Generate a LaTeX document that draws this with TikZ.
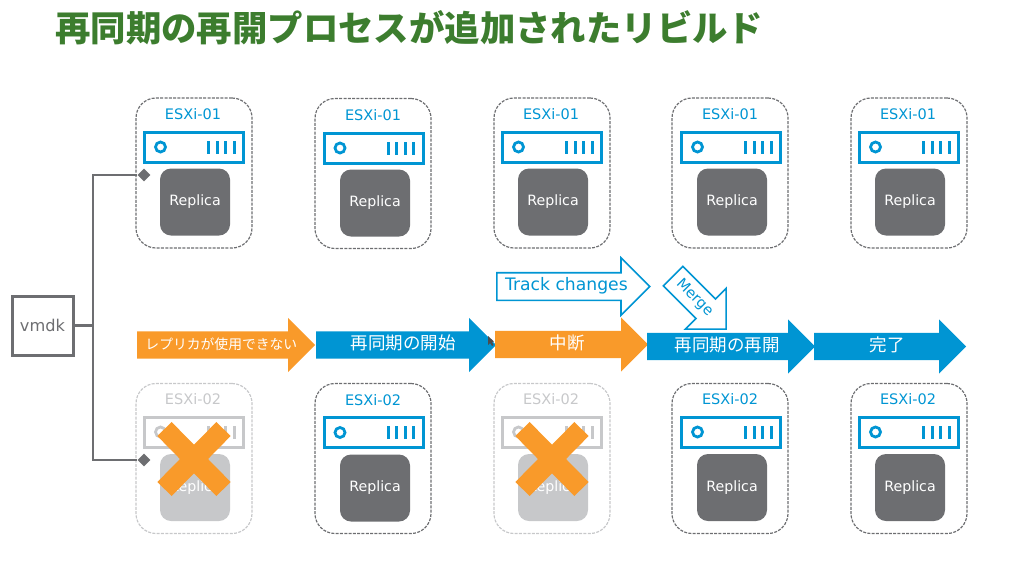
\documentclass[tikz,border=0pt]{standalone}
\usepackage{fontspec}
\usepackage{tikz}
\usetikzlibrary{shapes.arrows, shapes.geometric, shapes.misc}
\setmainfont{DejaVu Sans}
\newfontfamily\cjkfont{Noto Sans CJK JP}
\definecolor{esxblue}{HTML}{0095D3}
\definecolor{esxorange}{HTML}{F99A2A}
\definecolor{esxgrey}{HTML}{6D6E71}
\definecolor{esxfade}{HTML}{C7C8CA}
\definecolor{esxgreen}{HTML}{3C7D2E}
\tikzset{
  hostbox/.style={shape=rectangle, draw=#1, line width=1.2pt, dash pattern=on 3pt off 1.3pt,
    rounded corners=20pt, minimum width=116pt, minimum height=150pt, inner sep=0pt},
  hostbox/.default=esxgrey,
  hostname/.style={text=#1, font=\fontsize{14.5}{16}\selectfont},
  hostname/.default=esxblue,
  hostserver/.style={shape=rectangle, draw=#1, line width=3pt, minimum width=99pt, minimum height=30pt,
    inner sep=0pt, path picture={
      \draw[#1, line width=2.8pt] ([xshift=16pt]path picture bounding box.west) circle (5pt);
      \draw[#1, line width=3pt] ([xshift=64pt, yshift=-6.5pt]path picture bounding box.west) -- +(0, -13);
      \draw[#1, line width=3pt] ([xshift=72.5pt, yshift=-6.5pt]path picture bounding box.west) -- +(0, -13);
      \draw[#1, line width=3pt] ([xshift=81pt, yshift=-6.5pt]path picture bounding box.west) -- +(0, -13);
      \draw[#1, line width=3pt] ([xshift=89.5pt, yshift=-6.5pt]path picture bounding box.west) -- +(0, -13);
    }},
  hostserver/.default=esxblue,
  replica/.style={shape=rectangle, fill=#1, text=white, rounded corners=11pt, minimum width=70pt,
    minimum height=67pt, inner sep=0pt, font=\fontsize{14.2}{16}\selectfont},
  replica/.default=esxgrey,
  stagearrow/.style={shape=single arrow, fill=#1, text=white, anchor=tail, inner ysep=0pt, inner xsep=0pt,
    text height=18pt, text depth=9pt, single arrow head extend=13.5pt, single arrow head indent=0pt,
    font=\cjkfont\fontsize{17.5}{20}\selectfont},
  outlinearrow/.style={shape=single arrow, draw=esxblue, fill=white, text=esxblue, line width=1.6pt,
    anchor=tail, inner ysep=0pt, inner xsep=0pt, single arrow head extend=15pt, single arrow head indent=0pt,
    text height=17pt, text depth=9pt},
  hostlink/.style={draw=esxgrey, line width=2.4pt},
  linkend/.style={shape=diamond, fill=esxgrey, minimum size=13pt, inner sep=0pt},
  crossmark/.style={shape=rectangle, cross out, draw=esxorange, line width=20pt, minimum width=59pt,
    minimum height=60pt, inner sep=0pt, outer sep=0pt}
}
\begin{document}
\begin{tikzpicture}[x=1pt, y=-1pt]
  \useasboundingbox (0, 0) rectangle (1024, 571);
  \node (title) at (55, 28) [anchor=west, inner sep=0pt, text=esxgreen, font=\cjkfont\bfseries\fontsize{35.4}{40}\selectfont] {再同期の再開プロセスが追加されたリビルド};
  % first row of hosts
  \node (box1x1) at (194, 173) [hostbox] {};
  \node (box1x2) at (373, 173.5) [hostbox] {};
  \node (box1x3) at (552, 173) [hostbox] {};
  \node (box1x4) at (730, 173) [hostbox] {};
  \node (box1x5) at (909, 173) [hostbox] {};
  \node (name1x1) at (193, 114) [hostname] {ESXi-01};
  \node (name1x2) at (373, 115) [hostname] {ESXi-01};
  \node (name1x3) at (551, 114) [hostname] {ESXi-01};
  \node (name1x4) at (730, 114) [hostname] {ESXi-01};
  \node (name1x5) at (908, 114) [hostname] {ESXi-01};
  \node (server1x1) at (194, 147) [hostserver] {};
  \node (server1x2) at (373.5, 148) [hostserver] {};
  \node (server1x3) at (552, 147) [hostserver] {};
  \node (server1x4) at (731, 147) [hostserver] {};
  \node (server1x5) at (909, 147) [hostserver] {};
  \node (replica1x1) at (195, 202) [replica] {Replica};
  \node (replica1x2) at (375, 203) [replica] {Replica};
  \node (replica1x3) at (553, 202) [replica] {Replica};
  \node (replica1x4) at (732, 202) [replica] {Replica};
  \node (replica1x5) at (910, 202) [replica] {Replica};
  % second row of hosts
  \node (box2x1) at (194, 458.5) [hostbox=esxfade] {};
  \node (box2x2) at (373, 458.5) [hostbox] {};
  \node (box2x3) at (552, 458.5) [hostbox=esxfade] {};
  \node (box2x4) at (730, 458.5) [hostbox] {};
  \node (box2x5) at (909, 458.5) [hostbox] {};
  \node (name2x1) at (193, 399) [hostname=esxfade] {ESXi-02};
  \node (name2x2) at (373, 400) [hostname] {ESXi-02};
  \node (name2x3) at (551, 399) [hostname=esxfade] {ESXi-02};
  \node (name2x4) at (730, 399) [hostname] {ESXi-02};
  \node (name2x5) at (908, 399) [hostname] {ESXi-02};
  \node (server2x1) at (194, 432) [hostserver=esxfade] {};
  \node (server2x2) at (373.5, 432.5) [hostserver] {};
  \node (server2x3) at (552, 432) [hostserver=esxfade] {};
  \node (server2x4) at (731, 432) [hostserver] {};
  \node (server2x5) at (909, 432) [hostserver] {};
  \node (replica2x1) at (195, 487.5) [replica=esxfade] {Replica};
  \node (replica2x2) at (375, 488) [replica] {Replica};
  \node (replica2x3) at (553, 487.5) [replica=esxfade] {Replica};
  \node (replica2x4) at (732, 487.5) [replica] {Replica};
  \node (replica2x5) at (910, 487.5) [replica] {Replica};
  \node (cross2x1) at (194, 459) [crossmark] {};
  \node (cross2x3) at (552, 459) [crossmark] {};
  % vmdk and its links
  \node (vmdk) at (42.5, 325.5) [shape=rectangle, draw=esxgrey, line width=3pt, text=esxgrey, minimum width=61pt, minimum height=59pt, inner sep=0pt, font=\fontsize{16.2}{18}\selectfont] {vmdk};
  \coordinate (split) at (93, 325.5);
  \node (end1) at (144, 175) [linkend] {};
  \node (end2) at (144, 460) [linkend] {};
  \draw[hostlink] (vmdk) -- (split);
  \draw[hostlink] (end1) -| (split) |- (end2);
  % stages
  \node (stage1) at (137, 345) [stagearrow=esxorange, minimum height=178pt, font=\cjkfont\fontsize{13.8}{16}\selectfont] {\hspace*{4pt}レプリカが使用できない};
  \node (stage2) at (316, 345) [stagearrow=esxblue, minimum height=180pt] {\hspace*{8pt}再同期の開始};
  \node (stage3) at (495, 344.5) [stagearrow=esxorange, minimum height=153pt] {\hspace*{5pt}中断};
  \node (stage4) at (647, 346.5) [stagearrow=esxblue, minimum height=168pt] {\hspace*{6pt}再同期の再開};
  \node (stage5) at (814, 346.5) [stagearrow=esxblue, minimum height=152pt] {\hspace*{8pt}完了};
  \node (track) at (496, 286.5) [outlinearrow, minimum height=153pt, font=\fontsize{17.2}{20}\selectfont] {Track changes};
  \node (merge) at (672.5, 275.5) [outlinearrow, rotate=-45, minimum height=75pt, font=\fontsize{14.5}{16}\selectfont] {Merge};
  % pointer left on the slide
  \fill[black!70] (488, 336) -- (488, 345) -- (490, 343) -- (492, 346) -- (493.5, 345) -- (492, 342) -- (494, 341.5) -- cycle;
\end{tikzpicture}
\end{document}
